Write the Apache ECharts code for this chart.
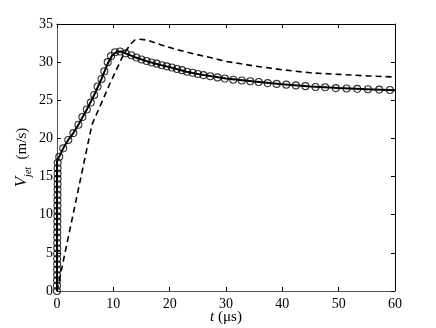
<!DOCTYPE html>
<html>
<head>
<meta charset="utf-8">
<script src="https://cdn.jsdelivr.net/npm/echarts@6/dist/echarts.min.js"></script>
<style>
  html, body { margin: 0; padding: 0; background: #fff; }
  #chart { width: 436px; height: 328px; }
</style>
</head>
<body>
<div id="chart"></div>
<script>
// solid curve [t (us), V_jet (m/s)]
const solidT = [0, 0, 1.1, 2, 2.9, 3.8, 5.3, 6.6, 7.9, 9, 9.8, 10.6, 11.4, 12.2, 14, 16, 18, 20, 23, 26, 30, 35, 40, 45, 50, 55, 60];
const solidV = [0, 17, 18.7, 19.8, 20.7, 21.8, 23.8, 25.7, 27.8, 29.8, 30.9, 31.35, 31.4, 31.15, 30.6, 30.1, 29.7, 29.35, 28.75, 28.3, 27.85, 27.45, 27.1, 26.8, 26.6, 26.45, 26.3];

// open circles
const circT = [0, 0, 0.01, 0.01, 0.02, 0.02, 0.03, 0.03, 0.04, 0.04, 0.05, 0.05, 0.06, 0.06, 0.07, 0.07, 0.08, 0.08, 0.09, 0.09, 0.1, 0.1, 0.11, 0.11, 0.12,
  0.4, 1.1, 2.0, 2.9, 3.8, 4.5, 5.3, 6.0, 6.6, 7.2, 7.9, 8.4, 9.0, 9.6,
  10.3, 11.2, 12.2, 13.2, 14.1, 15.0, 15.9, 16.8, 17.7, 18.6, 19.5, 20.4, 21.3, 22.2, 23.1, 24.1, 25.0, 26.0, 27.2, 28.5,
  29.8, 31.3, 32.8, 34.3, 35.8, 37.4, 39.0, 40.7, 42.4, 44.1, 45.9, 47.6, 49.5, 51.4, 53.3, 55.2, 57.2, 59.1];
const circV = [0, 0.7, 1.4, 2.1, 2.8, 3.5, 4.2, 4.9, 5.6, 6.3, 7.0, 7.7, 8.4, 9.1, 9.8, 10.5, 11.2, 11.9, 12.6, 13.3, 14.0, 14.7, 15.4, 16.1, 16.8,
  17.6, 18.7, 19.8, 20.7, 21.8, 22.8, 23.8, 24.7, 25.7, 26.8, 27.8, 28.8, 30.0, 30.8,
  31.3, 31.4, 31.15, 30.9, 30.6, 30.35, 30.15, 29.95, 29.8, 29.6, 29.45, 29.3, 29.1, 28.95, 28.75, 28.6, 28.45, 28.3, 28.15, 28.0,
  27.85, 27.7, 27.6, 27.5, 27.4, 27.25, 27.15, 27.05, 26.95, 26.85, 26.75, 26.7, 26.6, 26.55, 26.5, 26.45, 26.4, 26.35];

// dashed curve
const dashT = [0, 6.2, 9.4, 11.8, 13, 13.8, 14.7, 16, 18.3, 21.2, 24.2, 27.2, 30, 35, 40, 45, 50, 55, 60];
const dashV = [0, 21.8, 27.2, 31.0, 32.3, 32.9, 33.0, 32.9, 32.3, 31.65, 31.1, 30.6, 30.1, 29.5, 29.0, 28.6, 28.4, 28.2, 28.05];

const xTicks = [0, 10, 20, 30, 40, 50, 60];
const yTicks = [0, 5, 10, 15, 20, 25, 30, 35];

const zip = (a, b) => a.map((v, i) => [v, b[i]]);
const font = 'Liberation Serif';

const chart = echarts.init(document.getElementById('chart'), null, { renderer: 'canvas' });

const baseX = {
  type: 'value',
  min: xTicks[0],
  max: xTicks[xTicks.length - 1],
  interval: 10,
  splitLine: { show: false },
  axisTick: { inside: true, length: 4, lineStyle: { color: '#000' } }
};
const baseY = {
  type: 'value',
  min: yTicks[0],
  max: yTicks[yTicks.length - 1],
  interval: 5,
  splitLine: { show: false },
  axisTick: { inside: true, length: 4, lineStyle: { color: '#000' } }
};

chart.setOption({
  animation: false,
  backgroundColor: '#fff',
  grid: { left: 57, right: 41, top: 24, bottom: 37, outerBoundsMode: 'none' },
  xAxis: [
    Object.assign({}, baseX, {
      position: 'bottom',
      axisLine: { onZero: false, lineStyle: { color: '#555', width: 1 } },
      axisLabel: { color: '#000', fontFamily: font, fontSize: 14, margin: 6 },
      name: '{i|t} (μs)',
      nameLocation: 'middle',
      nameGap: 19,
      nameMoveOverlap: false,
      nameTextStyle: {
        color: '#000', fontFamily: font, fontSize: 15,
        rich: { i: { fontStyle: 'italic', fontFamily: font, fontSize: 15, color: '#000' } }
      }
    }),
    Object.assign({}, baseX, {
      position: 'top',
      axisLine: { onZero: false, lineStyle: { color: '#000', width: 1 } },
      axisLabel: { show: false }
    })
  ],
  yAxis: [
    Object.assign({}, baseY, {
      position: 'left',
      axisLine: { onZero: false, lineStyle: { color: '#555', width: 1 } },
      axisLabel: { color: '#000', fontFamily: font, fontSize: 14, margin: 4 },
      name: '{v|V}{s|jet}{u|  (m/s)}',
      nameLocation: 'middle',
      nameGap: 24,
      nameMoveOverlap: false,
      nameTextStyle: {
        color: '#000', fontFamily: font,
        rich: {
          v: { fontStyle: 'italic', fontFamily: font, fontSize: 17, lineHeight: 22, color: '#000' },
          s: { fontStyle: 'italic', fontFamily: font, fontSize: 10, lineHeight: 10, verticalAlign: 'bottom', color: '#000' },
          u: { fontFamily: font, fontSize: 15, color: '#000' }
        }
      }
    }),
    Object.assign({}, baseY, {
      position: 'right',
      axisLine: { onZero: false, lineStyle: { color: '#000', width: 1 } },
      axisLabel: { show: false }
    })
  ],
  series: [
    {
      type: 'line',
      data: zip(dashT, dashV),
      showSymbol: false,
      symbol: 'none',
      lineStyle: { color: '#000', width: 1.6, type: [6, 4] },
      z: 2
    },
    {
      type: 'line',
      data: zip(solidT, solidV),
      showSymbol: false,
      symbol: 'none',
      lineStyle: { color: '#000', width: 2 },
      z: 3
    },
    {
      type: 'scatter',
      data: zip(circT, circV),
      symbol: 'circle',
      symbolSize: 7,
      itemStyle: { color: 'rgba(0,0,0,0)', borderColor: '#000', borderWidth: 1.1 },
      z: 4
    }
  ]
});
</script>
</body>
</html>
